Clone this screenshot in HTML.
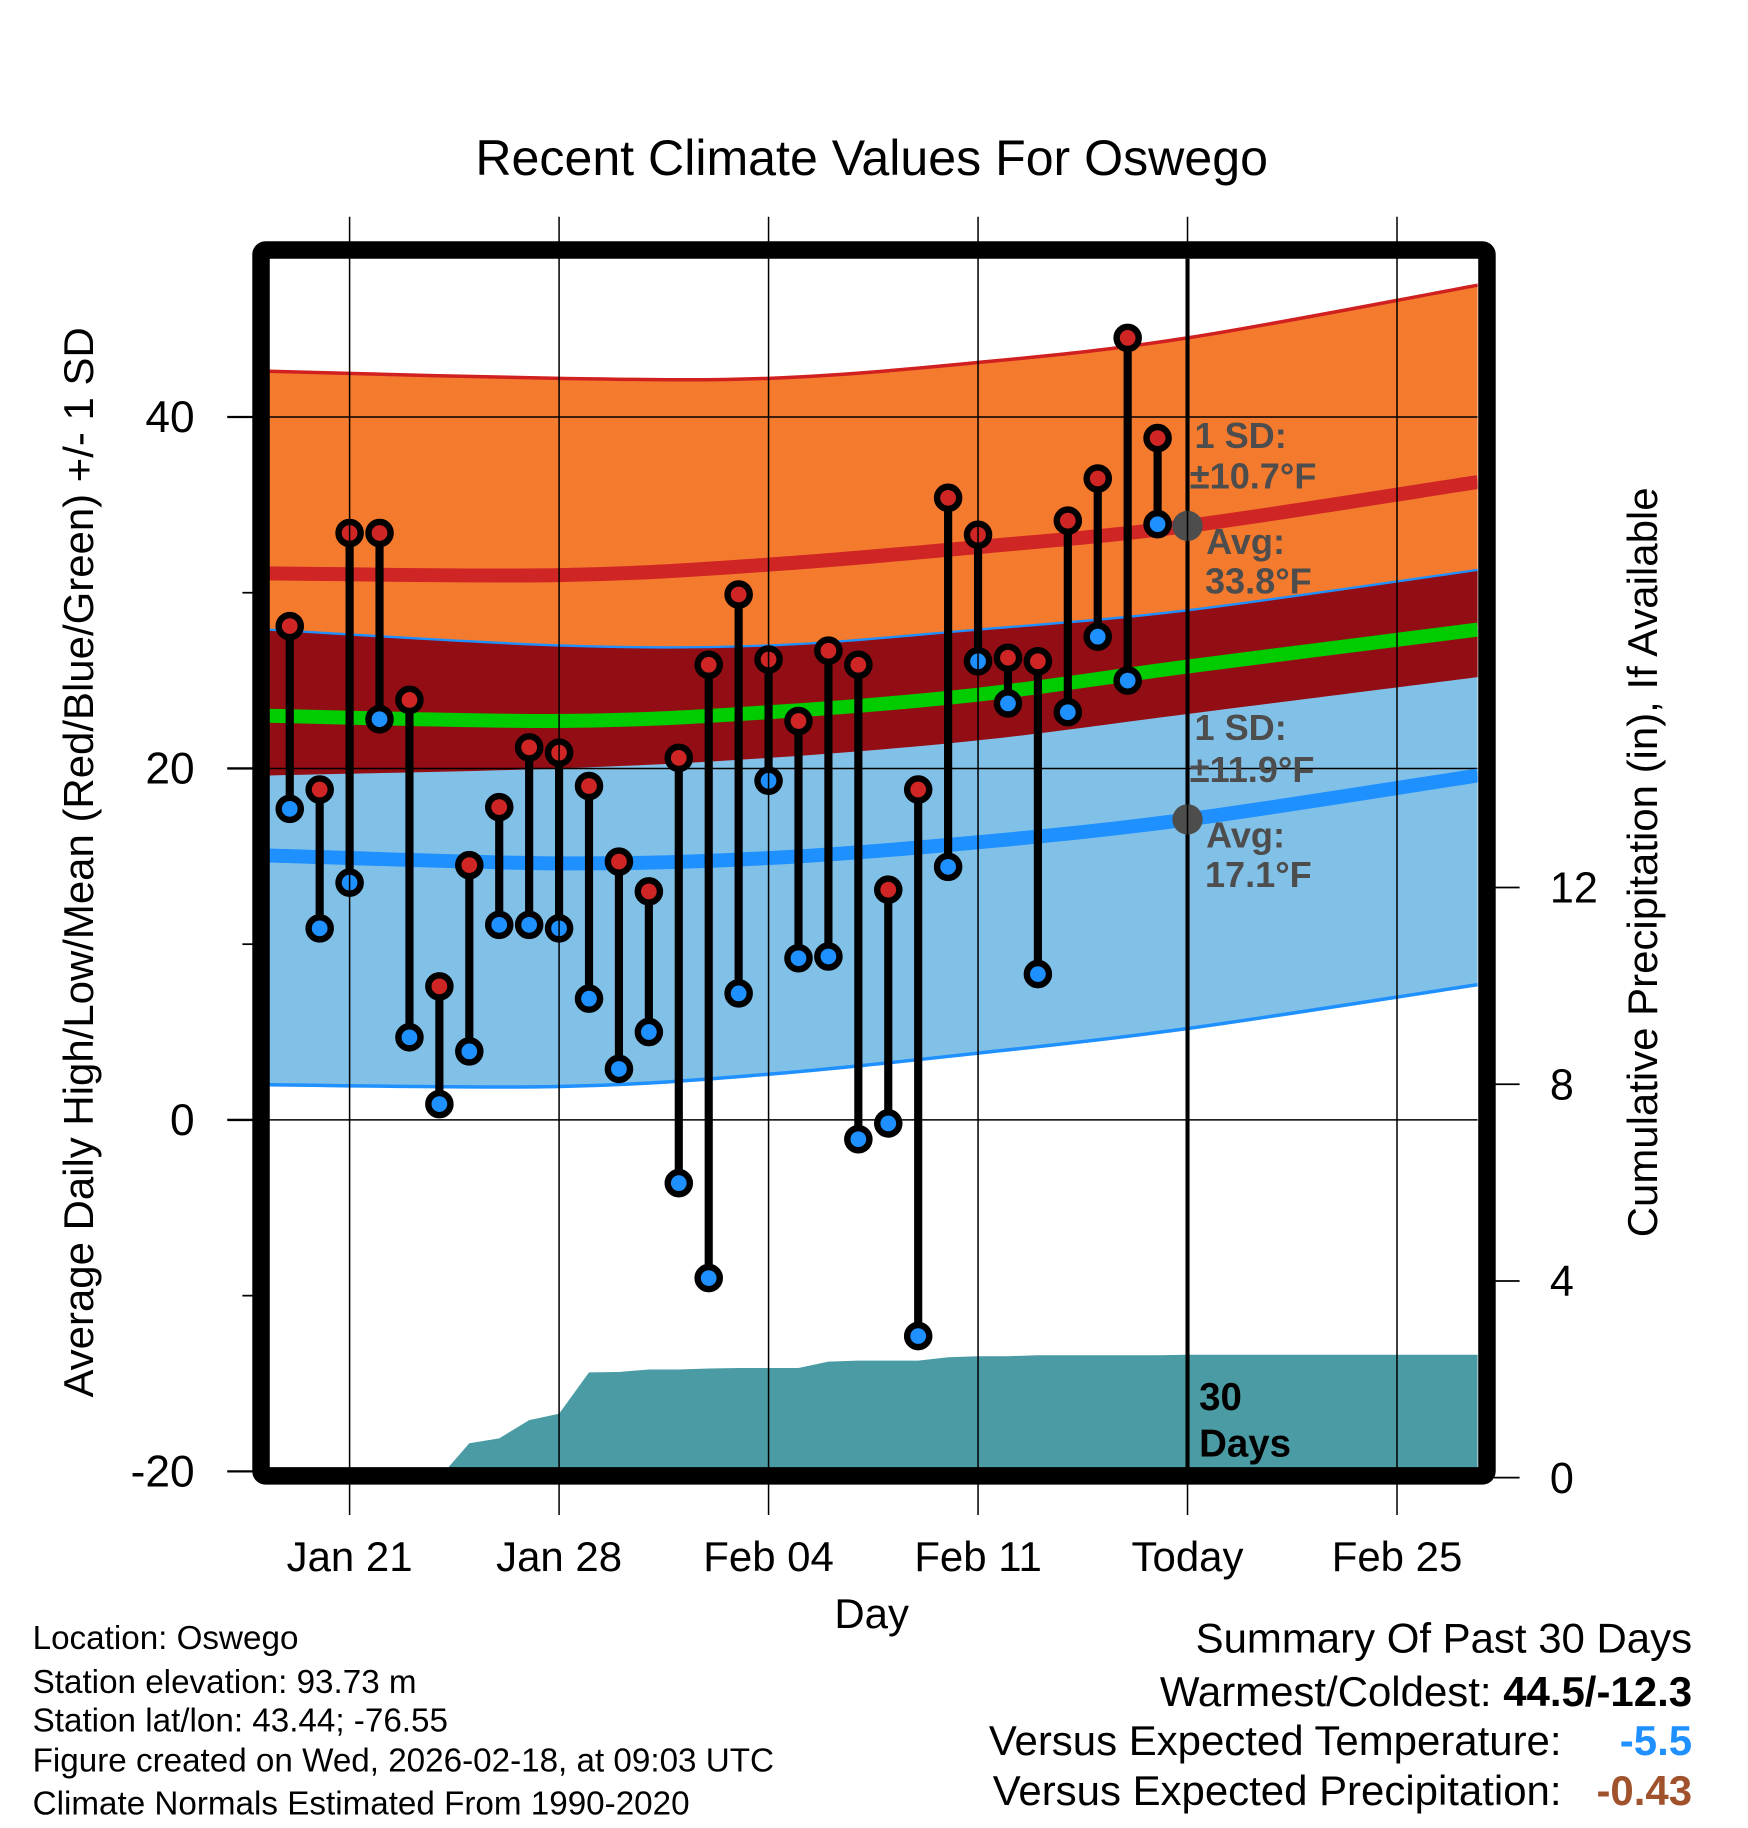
<!DOCTYPE html>
<html><head><meta charset="utf-8"><style>
html,body{margin:0;padding:0;background:#fff;}
svg{display:block;font-family:"Liberation Sans",sans-serif;}
</style></head><body>
<svg id="chart" width="1748" height="1828" viewBox="0 0 1500 1568.6" xmlns="http://www.w3.org/2000/svg">
<defs><clipPath id="plotclip"><rect x="231" y="222" width="1037" height="1038"/></clipPath></defs>
<text x="748" y="150" font-size="43" text-anchor="middle">Recent Climate Values For Oswego</text>
<g id="plot" clip-path="url(#plotclip)"></g>
<g id="over"></g>
<rect x="224" y="214.5" width="1052" height="1052" fill="none" stroke="#000" stroke-width="15" rx="4"/>
<g id="axes"></g>
<text x="748" y="1397" font-size="36" text-anchor="middle">Day</text>
<text transform="translate(80,740) rotate(-90)" font-size="36" text-anchor="middle">Average Daily High/Low/Mean (Red/Blue/Green) +/- 1 SD</text>
<text transform="translate(1422,740) rotate(-90)" font-size="36" text-anchor="middle">Cumulative Precipitation (in), If Available</text>
<g font-size="28.5">
<text x="28" y="1415">Location: Oswego</text>
<text x="28" y="1453">Station elevation: 93.73 m</text>
<text x="28" y="1486">Station lat/lon: 43.44; -76.55</text>
<text x="28" y="1520">Figure created on Wed, 2026-02-18, at 09:03 UTC</text>
<text x="28" y="1557">Climate Normals Estimated From 1990-2020</text>
</g>
<g font-size="36">
<text x="1452" y="1418" text-anchor="end">Summary Of Past 30 Days</text>
<text x="1452" y="1464" text-anchor="end">Warmest/Coldest: <tspan font-weight="bold">44.5/-12.3</tspan></text>
<text x="1340" y="1506" text-anchor="end">Versus Expected Temperature:</text>
<text x="1452" y="1506" text-anchor="end" fill="#1E90FF" font-weight="bold">-5.5</text>
<text x="1340" y="1549" text-anchor="end">Versus Expected Precipitation:</text>
<text x="1452" y="1549" text-anchor="end" fill="#A0522D" font-weight="bold">-0.43</text>
</g>
</svg>
<script>
// ---- data ----
const days = [-2,-1,0,1,2,3,4,5,6,7,8,9,10,11,12,13,14,15,16,17,18,19,20,21,22,23,24,25,26,27];
const highs = [28.1,18.8,33.4,33.4,23.9,7.6,14.5,17.8,21.2,20.9,19.0,14.7,13.0,20.6,25.9,29.9,26.2,22.7,26.7,25.9,13.1,18.8,35.4,33.3,26.3,26.1,34.1,36.5,44.5,38.8];
const lows = [17.7,10.9,13.5,22.8,4.7,0.9,3.9,11.1,11.1,10.9,6.9,2.9,5.0,-3.6,-9.0,7.2,19.3,9.2,9.3,-1.1,-0.2,-12.3,14.4,26.1,23.7,8.3,23.2,27.5,25.0,33.9];
const normDays = [-2.7,7,14,21,28,37.7];
const hiUpper = [42.6,42.2,42.2,43.1,44.5,47.5];
const hiAvg = [31.1,31.0,31.6,32.6,33.8,36.3];
const hiLower = [19.6,20.0,20.6,21.6,23.1,25.2];
const loUpper = [27.9,27.0,27.0,27.9,29.0,31.3];
const loAvg = [15.05,14.6,14.9,15.8,17.1,19.6];
const loLower = [2.0,1.9,2.6,3.8,5.2,7.7];
const meanAvg = [23.0,22.7,23.2,24.2,25.8,27.9];
const precipDays = [3,4,5,6,7,8,9,10,11,12,13,14,15,16,17,18,19,20,21,22,23,24,25,26,27,28,37.7];
const precipVals = [0,0.7,0.8,1.17,1.3,2.14,2.15,2.2,2.2,2.22,2.23,2.23,2.23,2.36,2.38,2.38,2.38,2.45,2.47,2.47,2.49,2.49,2.49,2.49,2.49,2.5,2.5];
const xTickDays = [0,7,14,21,28,35];
const xTickLabels = ["Jan 21","Jan 28","Feb 04","Feb 11","Today","Feb 25"];
const yTicks = [40,20,0,-20];
const yMinor = [30,10,-10];
const y2Ticks = [0,4,8,12];
const todayDay = 28;
// ---- axes ----
const X = d => 300 + 25.68*d;
const Y = v => 961 - 15.08*v;
const Y2 = v => 1268 - 42.2*v;
const NS = "http://www.w3.org/2000/svg";
function mk(parent, tag, attrs){const e=document.createElementNS(NS,tag);for(const k in attrs)e.setAttribute(k,attrs[k]);parent.appendChild(e);return e;}
function smooth(xs, ys){
  const p = xs.map((d,i)=>[X(d),Y(ys[i])]);
  let s = "M"+p[0][0]+","+p[0][1];
  for(let i=0;i<p.length-1;i++){
    const p0=p[Math.max(0,i-1)],p1=p[i],p2=p[i+1],p3=p[Math.min(p.length-1,i+2)];
    const c1=[p1[0]+(p2[0]-p0[0])/6,p1[1]+(p2[1]-p0[1])/6];
    const c2=[p2[0]-(p3[0]-p1[0])/6,p2[1]-(p3[1]-p1[1])/6];
    s+=" C"+c1[0]+","+c1[1]+" "+c2[0]+","+c2[1]+" "+p2[0]+","+p2[1];
  }
  return s;
}
function band(up, lo){
  const a = smooth(normDays, up);
  const rd = normDays.slice().reverse(), rl = lo.slice().reverse();
  const b = smooth(rd, rl).replace("M","L");
  return a+" "+b+" Z";
}
const plot = document.getElementById("plot");
const over = document.getElementById("over");
const axes = document.getElementById("axes");
let e;
e = mk(plot,"path",{d:band(hiUpper,hiLower),fill:"#F47A2E"});


e = mk(plot,"path",{d:band(loUpper,loLower),fill:"#82C1E7"});


e = mk(plot,"path",{d:band(loUpper,hiLower),fill:"#920E14"});


e = mk(plot,"path",{d:smooth(normDays,hiUpper),fill:"none",stroke:"#D02020","stroke-width":3});


e = mk(plot,"path",{d:smooth(normDays,loUpper),fill:"none",stroke:"#1E90FF","stroke-width":2});


e = mk(plot,"path",{d:smooth(normDays,loLower),fill:"none",stroke:"#1E90FF","stroke-width":3});


// precip
let pd = "M"+X(precipDays[0])+","+Y2(0);
precipDays.forEach((d,i)=>{pd+=" L"+X(d)+","+Y2(precipVals[i]);});
pd += " L"+X(precipDays[precipDays.length-1])+","+Y2(0)+" Z";
e = mk(plot,"path",{d:pd,fill:"#4A9BA3"});


// grid
xTickDays.forEach(d=>{
  e = mk(axes,"line",{x1:X(d),x2:X(d),y1:186,y2:1300,stroke:"#000","stroke-width":1.3});
  
  
});
yTicks.forEach(v=>{
  e = mk(plot,"line",{x1:231,x2:1268,y1:Y(v),y2:Y(v),stroke:"#000","stroke-width":1.3});
  
  
});
// avg lines
e = mk(plot,"path",{d:smooth(normDays,hiAvg),fill:"none",stroke:"#D02525","stroke-width":12});


e = mk(plot,"path",{d:smooth(normDays,loAvg),fill:"none",stroke:"#1E90FF","stroke-width":12});


e = mk(plot,"path",{d:smooth(normDays,meanAvg),fill:"none",stroke:"#00CC00","stroke-width":12});


// today line
e = mk(over,"line",{x1:X(todayDay),x2:X(todayDay),y1:222,y2:1260,stroke:"#000","stroke-width":3.5});


// stems & points
days.forEach((d,i)=>{
  e = mk(over,"line",{x1:X(d),x2:X(d),y1:Y(highs[i]),y2:Y(lows[i]),stroke:"#000","stroke-width":7});
  
  
});
days.forEach((d,i)=>{
  e = mk(over,"circle",{cx:X(d),cy:Y(highs[i]),r:9.5,fill:"#D02525",stroke:"#000","stroke-width":5.5});
  
  
  e = mk(over,"circle",{cx:X(d),cy:Y(lows[i]),r:9.5,fill:"#1E90FF",stroke:"#000","stroke-width":5.5});
  
  
});
// today markers
const hiToday = hiAvg[4], loToday = loAvg[4];
e = mk(over,"circle",{cx:X(todayDay),cy:Y(hiToday),r:13,fill:"#4D4D4D"});


e = mk(over,"circle",{cx:X(todayDay),cy:Y(loToday),r:13,fill:"#4D4D4D"});


// annotations
const ann = [["1 SD:",1025,Y(hiToday)-67],["\u00B110.7\u00B0F",1021,Y(hiToday)-32],["Avg:",1035,Y(hiToday)+24],["33.8\u00B0F",1034,Y(hiToday)+58],
             ["1 SD:",1025,Y(loToday)-68],["\u00B111.9\u00B0F",1021,Y(loToday)-32],["Avg:",1035,Y(loToday)+24],["17.1\u00B0F",1034,Y(loToday)+58]];
ann.forEach(a=>{
  e = mk(over,"text",{x:a[1],y:a[2],"font-size":31,"font-weight":"bold",fill:"#4D4D4D"});
  e.textContent=a[0];
  
  
});
e = mk(over,"text",{x:1029,y:1210,"font-size":33,"font-weight":"bold",fill:"#000"});e.textContent="30";


e = mk(over,"text",{x:1029,y:1250,"font-size":33,"font-weight":"bold",fill:"#000"});e.textContent="Days";


// y ticks
yTicks.forEach(v=>{
  e = mk(axes,"line",{x1:195,x2:220,y1:Y(v),y2:Y(v),stroke:"#000","stroke-width":2});
  
  
  e = mk(axes,"text",{x:167,y:Y(v)+13,"font-size":38,"text-anchor":"end"});e.textContent=String(v);
  
  
});
yMinor.forEach(v=>{
  e = mk(axes,"line",{x1:208,x2:220,y1:Y(v),y2:Y(v),stroke:"#000","stroke-width":1.5});
  
  
});
y2Ticks.forEach(v=>{
  e = mk(axes,"line",{x1:1282,x2:1304,y1:Y2(v),y2:Y2(v),stroke:"#000","stroke-width":1.5});
  
  
  e = mk(axes,"text",{x:1330,y:Y2(v)+13,"font-size":37}); e.textContent=String(v);
  
  
});
xTickDays.forEach((d,i)=>{
  e = mk(axes,"text",{x:X(d),y:1348,"font-size":36,"text-anchor":"middle"}); e.textContent=xTickLabels[i];
  
  
});
</script>
</body></html>
